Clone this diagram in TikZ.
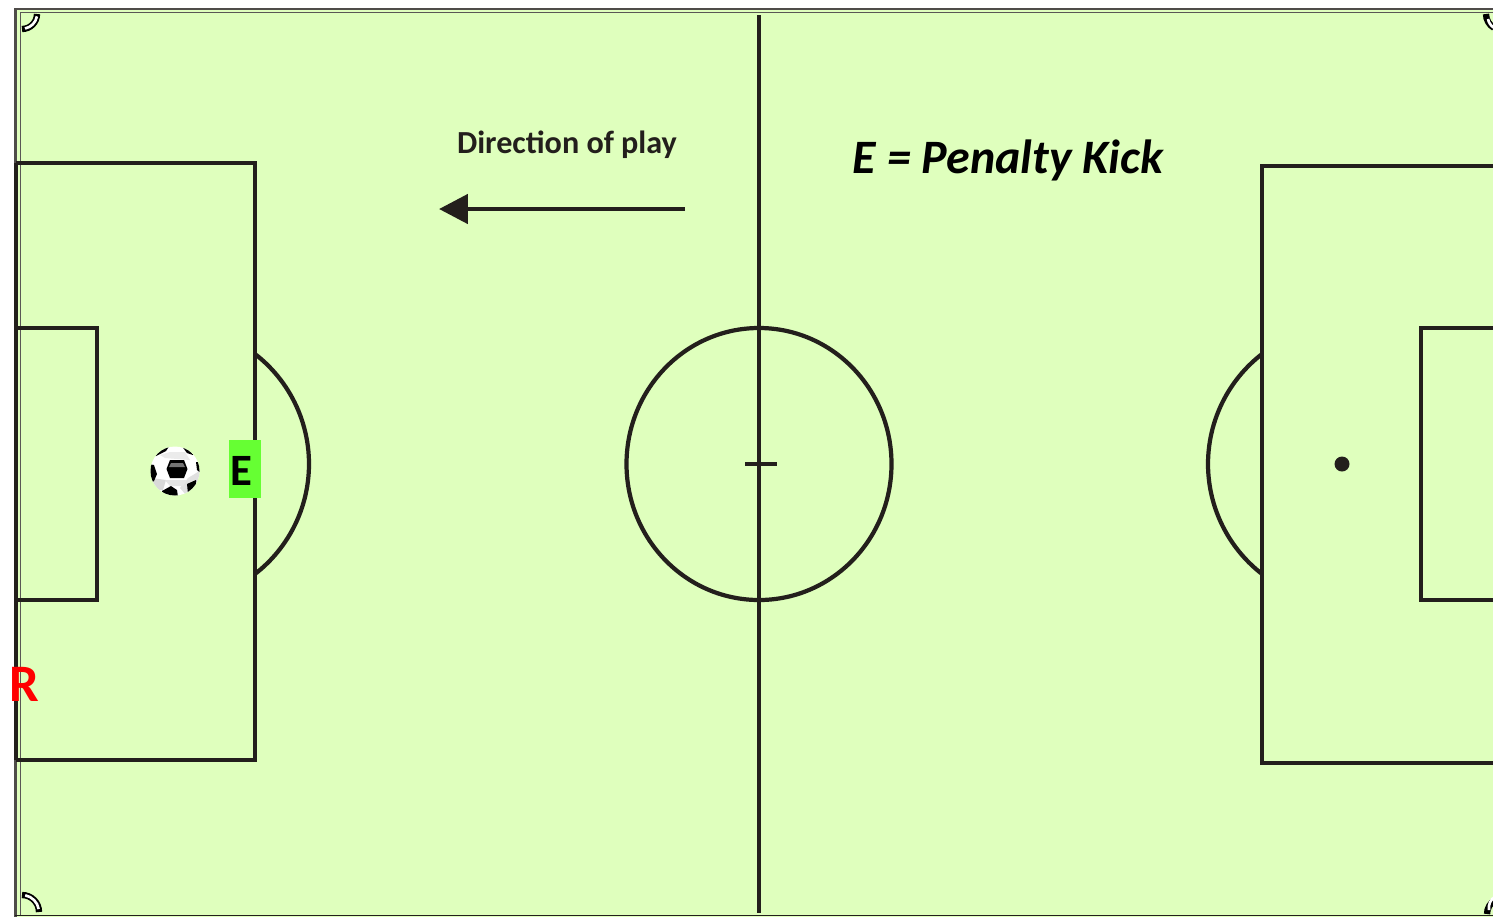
\documentclass[tikz,border=0pt]{standalone}
\usepackage{fontspec}
\setmainfont{Carlito}
\usetikzlibrary{arrows.meta,calc,positioning}
\definecolor{pitchgreen}{RGB}{223,255,189}
\definecolor{linedark}{RGB}{35,31,28}
\definecolor{boxgreen}{RGB}{102,255,51}
\tikzset{
  line/.style={draw=linedark,line width=2.4pt},
  thinline/.style={draw=linedark!75,line width=0.7pt},
  corner/.style={draw=black,line width=3.6pt},
  cornerin/.style={draw=white,line width=1.5pt},
  patch/.style={fill=black,draw=none}
}
\begin{document}
\begin{tikzpicture}[x=0.02cm,y=-0.02cm]
  \useasboundingbox (0,0) rectangle (1493,917);
  % Draw the pitch
  \fill[white] (0,0) rectangle (1493,917);
  \fill[pitchgreen] (15,9) rectangle (1493,917);
  % outer lines
  \draw[line width=1.5pt,draw=linedark!80] (1493,9) -- (15.5,9) -- (15.5,917);
  \draw[line width=1.1pt,draw=linedark] (15,915.5) -- (1493,915.5);
  \draw[thinline] (1493,12.5) -- (20.5,12.5) -- (20.5,915);
  \draw[line width=2.6pt,draw=linedark] (16,163) -- (16,760);
  % corner arcs
  \draw[corner] (22,29) arc[start angle=90,end angle=0,radius=15];
  \draw[cornerin] (25,28.5) arc[start angle=79,end angle=10,radius=15];
  \draw[corner] (22,895) arc[start angle=-90,end angle=0,radius=17];
  \draw[cornerin] (25.2,895.3) arc[start angle=-79,end angle=-10,radius=17];
  \draw[corner] (1486,14) arc[start angle=180,end angle=120,radius=16];
  \draw[cornerin] (1488,19) arc[start angle=170,end angle=120,radius=13];
  \draw[corner] (1487,914) arc[start angle=180,end angle=240,radius=16];
  \draw[cornerin] (1489,910) arc[start angle=170,end angle=240,radius=13];
  % halfway line and centre circle
  \draw[line] (759,15) -- (759,913);
  \draw[line] (759,464) circle[x radius=132.5,y radius=136];
  \draw[line] (745,464) -- (777,464);
  % left penalty area
  \draw[line] (16,163) -- (255,163) -- (255,760) -- (16,760);
  \draw[line] (16,328) -- (97,328) -- (97,600) -- (16,600);
  \draw[line] (255,354) arc[start angle=-52.3,end angle=52.3,radius=139];
  % right penalty area
  \draw[line] (1493,166) -- (1262,166) -- (1262,763) -- (1493,763);
  \draw[line] (1493,328) -- (1421,328) -- (1421,600) -- (1493,600);
  \draw[line] (1262,354) arc[start angle=232.3,end angle=127.7,radius=139];
  \fill[linedark] (1342,464) circle (7.5);
  % direction of play
  \node[text=linedark,font=\fontsize{18.3}{20}\selectfont\bfseries] (dirlabel) at (567,145) {Direction of play};
  \coordinate (arrowstart) at (685,209);
  \coordinate (arrowend) at (439,209);
  \draw[line,line width=2.8pt,-{Triangle[length=16.5pt,width=16.5pt]}] (arrowstart) -- (arrowend);
  \node[text=black,font=\fontsize{27.3}{30}\selectfont\bfseries\itshape] (kicklabel) at (1008,160) {E = Penalty Kick};
  % the ball
  \fill[white] (175,471) circle (24.5);
  \begin{scope}
    \clip (175,471) circle (24.5);
    \fill[black!12] (199.5,471) -- (188,478) -- (180,488) -- (186,495) -- (205,495) -- cycle;
    \fill[black!15] (152,478) -- (166,480) -- (163,490) -- (152,490) -- cycle;
    \fill[black!10] (165,480) -- (187,480) -- (183,486) -- (170,486) -- cycle;
    \fill[black!8] (160,455) -- (170,452) -- (185,452) -- (190,460) -- (165,458) -- cycle;
    \fill[patch] (170,460) -- (184,460) -- (187.5,469) -- (184,478) -- (170,478) -- (166.5,469) -- cycle;
    \fill[black!55] (171,463) -- (183,463) -- (185,467) -- (169,467) -- cycle;
    \fill[patch] (160,445) -- (170,445) -- (166,451) -- (156,456) -- (152,456) -- cycle;
    \fill[patch] (181,445) -- (192,449) -- (193,455) -- (187,453) -- cycle;
    \fill[patch] (148,464) -- (154,465) -- (157,474) -- (154,481) -- (148,484) -- cycle;
    \fill[patch] (196,462) -- (202,462) -- (202,474) -- (197,470) -- cycle;
    \fill[patch] (162,491) -- (171,486) -- (177,490) -- (178,497) -- (162,497) -- cycle;
    \fill[patch] (187,484) -- (196,480) -- (197,488) -- (188,494) -- cycle;
  \end{scope}
  % the E and R marks
  \fill[boxgreen] (229,440) rectangle (261,498);
  \node[text=black,font=\fontsize{25.5}{28}\selectfont\bfseries] (elabel) at (241,471) {E};
  \node[text=red,font=\fontsize{30}{32}\selectfont\bfseries] (rlabel) at (24,684) {R};
\end{tikzpicture}
\end{document}
